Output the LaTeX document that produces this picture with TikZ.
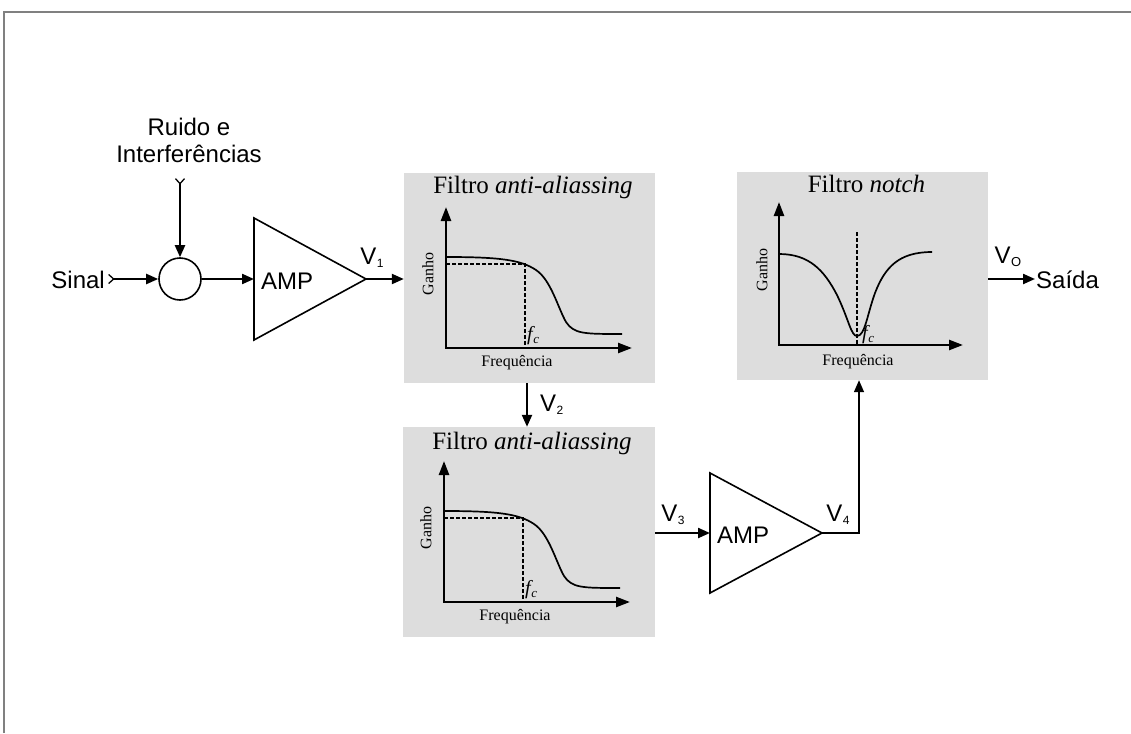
\documentclass[tikz,border=0pt]{standalone}
\usepackage{fontspec}
\setmainfont{Liberation Serif}
\newfontfamily\arial{Liberation Sans}
\usetikzlibrary{arrows.meta}
\definecolor{boxgray}{RGB}{221,221,221}
\definecolor{framegray}{RGB}{128,128,128}
\newcommand{\Vsub}[1]{V\kern0.5pt\raisebox{-3pt}{\fontsize{12}{12}\selectfont #1}}
\newcommand{\fcl}{\fontsize{20}{20}\selectfont\itshape f\kern0.5pt\raisebox{-3pt}{\fontsize{13}{13}\selectfont c}}
\begin{document}
\begin{tikzpicture}[x=1pt,y=-1pt,
  sans/.style={font=\arial\fontsize{24}{27}\selectfont, inner sep=0pt},
  titletxt/.style={font=\fontsize{25}{28}\selectfont, inner sep=0pt, anchor=north},
  small/.style={font=\fontsize{16}{18}\selectfont, inner sep=0pt},
  flow/.style={line width=2.2pt, -{Triangle[length=12pt,width=10pt]}},
  thinflow/.style={line width=1.4pt, -{Triangle[length=12pt,width=10pt]}},
  barbtail/.style={{Straight Barb[reversed,length=5pt,width=9pt,line width=1.3pt]}-{Triangle[length=12pt,width=10pt]}},
  axes/.style={line width=2.4pt, {Triangle[length=14pt,width=10pt]}-{Triangle[length=14pt,width=10pt]}},
  resp/.style={line width=1.7pt},
  guide/.style={line width=1.6pt, dash pattern=on 4pt off 2pt},
  filterbox/.style={fill=boxgray, draw=none, inner sep=0pt},
  ampbox/.style={line width=1.6pt, line join=miter},
  lowpass/.pic={
    \draw[axes] (0,-141) -- (0,0) -- (186,0);
    \draw[resp] (0,-91) .. controls (55,-91) and (75,-88) .. (90,-78)
                .. controls (105,-68) and (112,-40) .. (120,-26)
                .. controls (128,-14) and (138,-14) .. (176,-14);
    \draw[guide] (0,-84) -- (79,-84) -- (79,0);
    \node[anchor=south west, inner sep=0pt] (-fc) at (81,-3) {\fcl};
    \node[small, rotate=90] (-ganho) at (-18,-74) {Ganho};
    \node[small] (-freq) at (71,15) {Frequência};
  },
  notch/.pic={
    \draw[axes] (0,-143) -- (0,0) -- (184,0);
    \draw[resp] (0,-91) .. controls (30,-91) and (45,-75) .. (58,-50)
                .. controls (70,-25) and (72,-9) .. (78,-9)
                .. controls (86,-9) and (88,-30) .. (96,-52)
                .. controls (106,-78) and (120,-93) .. (153,-93);
    \draw[line width=1.2pt, dash pattern=on 4pt off 2pt] (78,-113) -- (78,0);
    \node[anchor=south west, inner sep=0pt] (-fc) at (83,-1) {\fcl};
    \node[small, rotate=90] (-ganho) at (-17,-75) {Ganho};
    \node[small] (-freq) at (79,17) {Frequência};
  }
]
\useasboundingbox (0,0) rectangle (1131,733);
% frame
\draw[framegray, line width=1.5pt] (4,733) -- (4,12) -- (1131,12);

% filter boxes
\node[filterbox, minimum width=251pt, minimum height=210pt] (f1) at (529.5,278) {};
\node[filterbox, minimum width=252pt, minimum height=210pt] (f2) at (529,532) {};
\node[filterbox, minimum width=251pt, minimum height=208pt] (f3) at (862.5,276) {};

\node[titletxt] (t1) at ([xshift=3.5pt,yshift=-3pt]f1.north) {Filtro \textit{anti-aliassing}};
\node[titletxt] (t2) at ([xshift=3pt,yshift=-5pt]f2.north) {Filtro \textit{anti-aliassing}};
\node[titletxt] (t3) at ([xshift=4pt,yshift=-3pt]f3.north) {Filtro \textit{notch}};

\pic (p1) at (446,348) {lowpass};
\pic (p2) at (444,602) {lowpass};
\pic (p3) at (779,345) {notch};

% input section
\node[sans, anchor=east] (sinal) at (105,280) {Sinal};
\node[sans, align=center] (noise) at (189,140) {Ruido e\\Interferências};
\node[circle, draw, line width=1.6pt, minimum size=42pt, inner sep=0pt] (sum) at (180,279) {};
\coordinate (nz) at (180,178);
\coordinate (sg) at (108,279);
\draw[line width=2.2pt, barbtail] (nz) -- (sum.north);
\draw[line width=2.2pt, barbtail] (sg) -- (sum.west);

% amplifier 1
\coordinate (a1in) at (254,279);
\coordinate (a1out) at (366,279);
\draw[ampbox] (254,218) -- (254,340) -- (a1out) -- cycle;
\node[sans, anchor=west] (amp1) at (261,281) {AMP};
\draw[flow] (sum.east) -- (a1in);
\draw[flow] (a1out) -- (a1out -| f1.west);
\node[sans] (v1) at (372,258) {\Vsub{1}};

% V2
\coordinate (v2s) at (527,383);
\draw[flow] (v2s) -- (v2s |- f2.north);
\node[sans, anchor=west] (v2) at (540,405) {\Vsub{2}};

% amplifier 2
\coordinate (a2in) at (710,533);
\coordinate (a2out) at (822,533);
\draw[ampbox] (710,473) -- (710,593) -- (a2out) -- cycle;
\node[sans, anchor=west] (amp2) at (717,535) {AMP};
\draw[flow] (a2in -| f2.east) -- (a2in);
\node[sans] (v3) at (673,515) {\Vsub{3}};

% V4 to notch
\coordinate (v4c) at (859,533);
\draw[thinflow] (a2out) -- (v4c) -- (v4c |- f3.south);
\node[sans] (v4) at (838,515) {\Vsub{4}};

% output
\coordinate (outc) at (1035,279);
\draw[flow] (outc -| f3.east) -- (outc);
\node[sans] (vo) at (1008,257) {V\kern0.5pt\raisebox{-3pt}{\fontsize{13}{13}\selectfont O}};
\node[sans, anchor=west] (saida) at (1036,280) {Saída};
\end{tikzpicture}
\end{document}
